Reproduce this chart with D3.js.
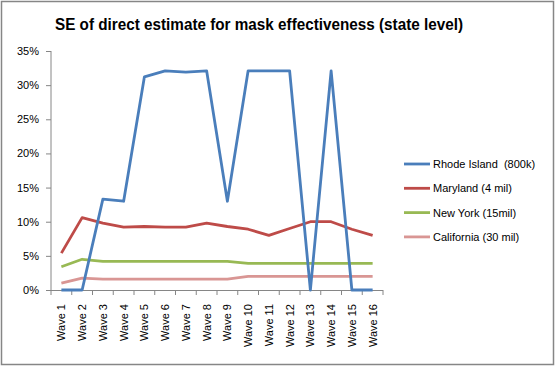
<!DOCTYPE html>
<html>
<head>
<meta charset="utf-8">
<script src="https://cdn.jsdelivr.net/npm/d3@7"></script>
<style>
  body { margin: 0; background: #fff; }
  svg { display: block; }
  .axis text { font-family: "Liberation Sans", Arial, sans-serif; font-size: 11px; fill: #000; }
  .axis path, .axis line { stroke: #868686; }
</style>
</head>
<body>
<svg id="chart" width="557" height="367"></svg>
<script>
// categories and series (values in %)
var waves = ["Wave 1", "Wave 2", "Wave 3", "Wave 4", "Wave 5", "Wave 6", "Wave 7", "Wave 8",
  "Wave 9", "Wave 10", "Wave 11", "Wave 12", "Wave 13", "Wave 14", "Wave 15", "Wave 16"];

var rhodeIsland = [0, 0, 13.3, 13.0, 31.2, 32.1, 31.9, 32.1, 13.0, 32.1, 32.1, 32.1, 0, 32.1, 0, 0];
var maryland    = [5.4, 10.6, 9.8, 9.2, 9.3, 9.2, 9.2, 9.8, 9.3, 8.9, 8.0, 9.0, 10.0, 10.0, 8.9, 8.0];
var newYork     = [3.4, 4.5, 4.2, 4.2, 4.2, 4.2, 4.2, 4.2, 4.2, 3.9, 3.9, 3.9, 3.9, 3.9, 3.9, 3.9];
var california  = [1.0, 1.75, 1.6, 1.6, 1.6, 1.6, 1.6, 1.6, 1.6, 2.0, 2.0, 2.0, 2.0, 2.0, 2.0, 2.0];

var seriesNames = ["Rhode Island  (800k)", "Maryland (4 mil)", "New York (15mil)", "California (30 mil)"];
var yTicks = [0, 5, 10, 15, 20, 25, 30, 35];

var colors = ["#4A7EBB", "#BE4B48", "#98B954", "#D99694"];
var series = [rhodeIsland, maryland, newYork, california].map(function(v, i) {
  return { name: seriesNames[i], values: v, color: colors[i] };
});

var svg = d3.select("#chart");

// outer frame
svg.append("rect")
  .attr("x", 1.5).attr("y", 1.5)
  .attr("width", 552).attr("height", 363)
  .attr("fill", "#fff")
  .attr("stroke", "#868686")
  .attr("stroke-width", 1.5);

svg.append("text")
  .attr("x", 259)
  .attr("y", 30)
  .attr("text-anchor", "middle")
  .style("font-family", "Liberation Sans, Arial, sans-serif")
  .style("font-weight", "bold")
  .style("font-size", "17px")
  .attr("textLength", 408)
  .attr("lengthAdjust", "spacingAndGlyphs")
  .text("SE of direct estimate for mask effectiveness (state level)");

var plotLeft = 51, plotRight = 383, plotTop = 51, plotBottom = 290;

var x = d3.scaleBand().domain(waves).range([plotLeft, plotRight]);
var y = d3.scaleLinear().domain([0, 35]).range([plotBottom, plotTop]);

// y axis
var yAxis = d3.axisLeft(y)
  .tickValues(yTicks)
  .tickSize(5)
  .tickPadding(7)
  .tickFormat(function(d) { return d + "%"; });

svg.append("g")
  .attr("class", "axis")
  .attr("transform", "translate(" + plotLeft + ",0)")
  .call(yAxis)
  .call(function(g) { g.select(".domain").attr("d", "M0," + plotTop + "V" + plotBottom); });

// x axis (ticks between categories)
var xAxis = svg.append("g")
  .attr("class", "axis")
  .attr("transform", "translate(0," + plotBottom + ")");

xAxis.append("line")
  .attr("x1", plotLeft).attr("x2", plotRight)
  .attr("y1", 0.5).attr("y2", 0.5);

xAxis.selectAll(".tickline")
  .data(waves.concat(["end"]))
  .enter().append("line")
  .attr("class", "tickline")
  .attr("x1", function(d) { return d === "end" ? plotRight : x(d); })
  .attr("x2", function(d) { return d === "end" ? plotRight : x(d); })
  .attr("y1", 0).attr("y2", 5);

xAxis.selectAll(".label")
  .data(waves)
  .enter().append("text")
  .attr("class", "label")
  .attr("text-anchor", "end")
  .attr("transform", function(d) {
    return "translate(" + (x(d) + x.bandwidth() / 2 + 4) + ",14) rotate(-90)";
  })
  .text(function(d) { return d; });

// lines
var line = d3.line()
  .x(function(d, i) { return x(waves[i]) + x.bandwidth() / 2; })
  .y(function(d) { return y(d); });

svg.selectAll(".series")
  .data(series.slice().reverse())
  .enter().append("path")
  .attr("class", "series")
  .attr("d", function(d) { return line(d.values); })
  .attr("fill", "none")
  .attr("stroke", function(d) { return d.color; })
  .attr("stroke-width", 2.8)
  .attr("stroke-linejoin", "round");

// legend
var legend = svg.selectAll(".legend")
  .data(series)
  .enter().append("g")
  .attr("class", "legend")
  .attr("transform", function(d, i) { return "translate(404," + (164 + i * 24.3) + ")"; });

legend.append("line")
  .attr("x1", 0).attr("x2", 26)
  .attr("stroke", function(d) { return d.color; })
  .attr("stroke-width", 2.8);

legend.append("text")
  .attr("x", 29)
  .attr("y", 4)
  .style("font-family", "Liberation Sans, Arial, sans-serif")
  .style("font-size", "11px")
  .style("white-space", "pre")
  .text(function(d) { return d.name; });
</script>
</body>
</html>
